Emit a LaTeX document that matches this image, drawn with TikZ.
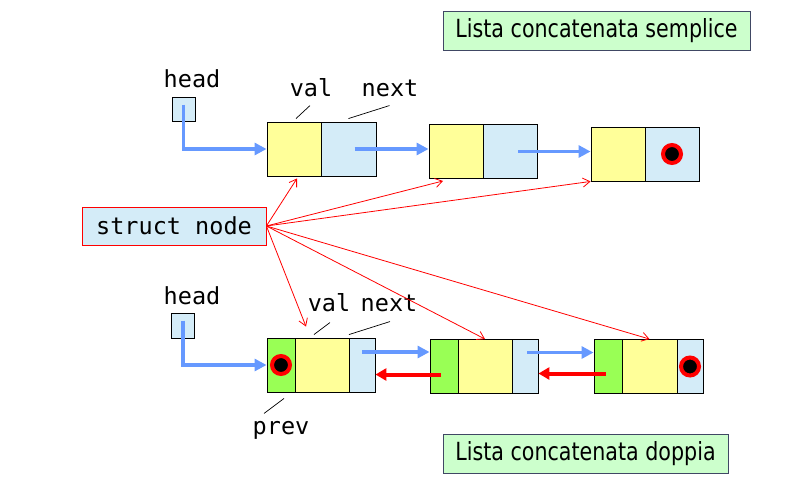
\documentclass[tikz,border=0pt]{standalone}
\usepackage{fontspec}
\setmainfont{DejaVu Sans}
\setmonofont{DejaVu Sans Mono}
\newfontfamily\titelfont[FakeStretch=0.825]{DejaVu Sans}
\usepackage{tikz}
\usetikzlibrary{arrows.meta}
\definecolor{gelb}{RGB}{255,255,153}
\definecolor{hellblau}{RGB}{212,236,248}
\definecolor{gruen}{RGB}{153,255,85}
\definecolor{hellgruen}{RGB}{204,255,204}
\definecolor{pfeilblau}{RGB}{102,153,255}
\definecolor{rahmen}{RGB}{64,72,100}

\begin{document}
\begin{tikzpicture}[x=1pt, y=-1pt, %Pixelkoordinaten
	zelle/.style={draw=black, line width=0.9pt, inner sep=0pt, minimum height=54pt, minimum width=#1},
	valzelle/.style={zelle=54pt, fill=gelb},
	nextzelle/.style={zelle=#1, fill=hellblau}, nextzelle/.default=54pt,
	prevzelle/.style={zelle=28pt, fill=gruen},
	headzelle/.style={draw=black, line width=0.9pt, fill=hellblau, inner sep=0pt, minimum width=23pt, minimum height=24pt},
	nil/.style={circle, draw=red, fill=black, line width=4pt, inner sep=0pt, minimum size=18pt},
	codetext/.style={font=\ttfamily\fontsize{23.5}{26}\selectfont, inner sep=0pt},
	titel/.style={draw=rahmen, fill=hellgruen, line width=0.8pt, inner sep=0pt, minimum height=39pt, font=\titelfont\fontsize{25}{28}\selectfont},
	blau/.style={pfeilblau, line width=3.5pt, -{Triangle[length=12pt,width=12pt]}},
	rotdick/.style={red, line width=4pt, -{Triangle[length=11pt,width=12pt]}},
	zeiger/.style={red, line width=0.8pt, -{Straight Barb[length=7pt,width=9pt]}},
	fuehr/.style={black, line width=0.7pt}]
	\useasboundingbox (0,0) rectangle (802,485);
	
	% Titel
	\node[titel, minimum width=307pt] (t1) at (596.5,30.5) {Lista concatenata semplice};
	\node[titel, minimum width=285pt] (t2) at (585.5,453.5) {Lista concatenata doppia};
	
	% einfach verkettete Liste
	\node[codetext] (head1) at (192,79) {head};
	\node[headzelle] (h1) at (183.5,109.5) {};
	\node[valzelle] (sv1) at (294,149) {};
	\node[nextzelle=55pt] (sn1) at (348.5,149) {};
	\node[valzelle] (sv2) at (456,151.5) {};
	\node[nextzelle] (sn2) at (510,151.5) {};
	\node[valzelle] (sv3) at (618,154) {};
	\node[nextzelle] (sn3) at (672,154) {};
	\node[nil] (nil1) at (sn3.center) {};
	\node[codetext] (lval1) at (311,88) {val};
	\node[codetext] (lnext1) at (390,88) {next};
	\draw[fuehr] ([shift={(2,-3)}]sv1.north) -- ++(14,-13);
	\draw[fuehr] ([shift={(0,-3)}]sn1.north) -- ++(41,-13);
	
	\draw[blau] ([yshift=5pt]h1.center) |- (sv1.west);
	\draw[blau] ([xshift=6pt]sn1.center) -- (sn1.center -| sv2.west);
	\draw[blau] ([xshift=8pt]sn2.center) -- (sn2.center -| sv3.west);
	
	% struct node
	\node[draw=red, fill=hellblau, line width=0.8pt, codetext, minimum width=184pt, minimum height=38pt] (sn) at (174,226) {struct node};
	
	% doppelt verkettete Liste
	\node[codetext] (head2) at (192,296) {head};
	\node[headzelle, minimum height=25pt] (h2) at (183,325.5) {};
	\node[prevzelle] (dp1) at (281,365) {};
	\node[valzelle] (dv1) at (322,365) {};
	\node[nextzelle=26pt] (dn1) at (362,365) {};
	\node[prevzelle] (dp2) at (444,366.5) {};
	\node[valzelle] (dv2) at (485,366.5) {};
	\node[nextzelle=26pt] (dn2) at (525,366.5) {};
	\node[prevzelle] (dp3) at (608,366.5) {};
	\node[valzelle, minimum width=55pt] (dv3) at (649.5,366.5) {};
	\node[nextzelle=26pt] (dn3) at (690,366.5) {};
	\node[nil] (nil2) at (dp1.center) {};
	\node[nil] (nil3) at (dn3.center) {};
	\node[codetext] (lval2) at (329,303) {val};
	\node[codetext] (lnext2) at (389,303) {next};
	\node[codetext] (lprev) at (281,430) {prev};
	\draw[fuehr] ([shift={(-8,-3)}]dv1.north) -- ++(16,-12);
	\draw[fuehr] ([shift={(-13,-3)}]dn1.north) -- ++(41,-13);
	\draw[fuehr] ([shift={(3,6)}]dp1.south) -- ++(-20,15);
	
	\draw[blau] ([yshift=5pt]h2.center) |- (dp1.west);
	\draw[blau] ([yshift=13pt]dn1.center) -- ([yshift=13pt]dn1.center -| dp2.west);
	\draw[blau] ([shift={(2,-14)}]dn2.center) -- ([yshift=14pt]dn2.center -| dp3.west);
	\draw[rotdick] ([shift={(-3,8)}]dp2.center) -- ([yshift=-8pt]dp2.center -| dn1.east);
	\draw[rotdick] ([shift={(-2,7)}]dp3.center) -- ([yshift=-7pt]dp3.center -| dn2.east);
	
	% Zeiger von struct node
	\draw[zeiger] (sn.east) -- ([shift={(3,2)}]sv1.south);
	\draw[zeiger] (sn.east) -- ([shift={(-13,2)}]sv2.south);
	\draw[zeiger] (sn.east) -- (sv3.south west);
	\draw[zeiger] (sn.east) -- ([shift={(-16,-11)}]dv1.north);
	\draw[zeiger] (sn.east) -- (dv2.north);
	\draw[zeiger] (sn.east) -- (dv3.north);
\end{tikzpicture}
\end{document}
